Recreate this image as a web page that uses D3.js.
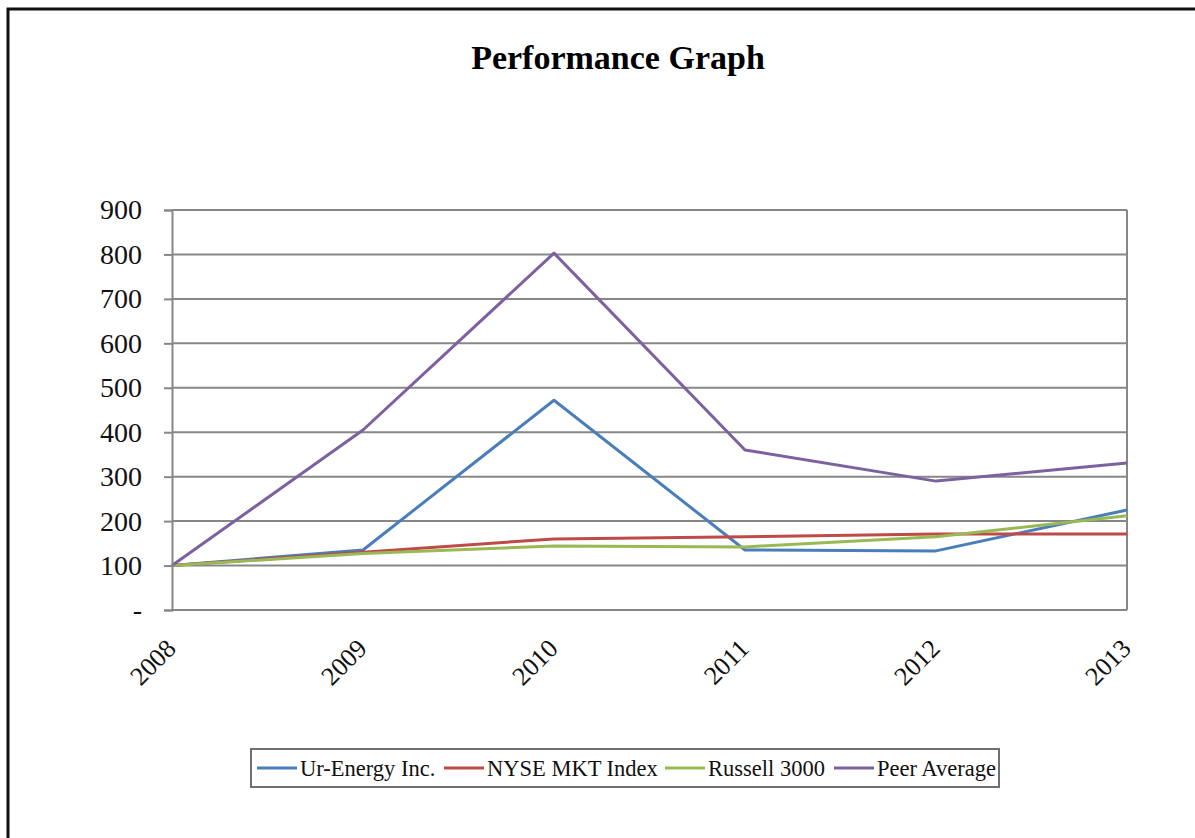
<!DOCTYPE html>
<html>
<head>
<meta charset="utf-8">
<script src="https://cdn.jsdelivr.net/npm/d3@7"></script>
<style>
	body { margin: 0; background: #fff; }
	svg { display: block; font-family: "Liberation Serif", "Times New Roman", serif; }
</style>
</head>
<body>
<svg id="chart"></svg>
<script>
const width = 1195
const height = 838

const years = ["2008", "2009", "2010", "2011", "2012", "2013"]
const urEnergy = [100, 135, 472, 135, 133, 225]
const nyseMkt = [100, 130, 160, 165, 171, 171]
const russell3000 = [100, 127, 144, 142, 165, 212]
const peerAverage = [100, 405, 803, 360, 290, 331]
const yTicks = [0, 100, 200, 300, 400, 500, 600, 700, 800, 900]

const seriesNames = ["Ur-Energy Inc.", "NYSE MKT Index", "Russell 3000", "Peer Average"]
const seriesColors = ["#4a7ebb", "#be4b48", "#98b954", "#7d60a0"]
const seriesValues = [urEnergy, nyseMkt, russell3000, peerAverage]

const margin = { top: 210, right: 68, bottom: 228, left: 172 }

const svg = d3.select("#chart")
	.attr("width", width)
	.attr("height", height)

// outer frame, runs off the right and bottom edges
svg.append("path")
	.attr("d", `M8,${height} V9 H${width}`)
	.attr("fill", "none")
	.attr("stroke", "#111")
	.attr("stroke-width", 3)

svg.append("text")
	.attr("x", 618)
	.attr("y", 69)
	.attr("text-anchor", "middle")
	.style("font-size", "34px")
	.style("font-weight", "bold")
	.text("Performance Graph")

const x = d3.scalePoint()
	.domain(years)
	.range([margin.left, width - margin.right])

const y = d3.scaleLinear()
	.domain([0, 900])
	.range([height - margin.bottom, margin.top])

const plot = svg.append("g")

// horizontal gridlines
plot.selectAll(".grid")
	.data(yTicks)
	.enter().append("line")
	.attr("class", "grid")
	.attr("x1", margin.left)
	.attr("x2", width - margin.right)
	.attr("y1", d => y(d))
	.attr("y2", d => y(d))
	.attr("stroke", "#878787")
	.attr("stroke-width", 2)

// right border of plot area
plot.append("line")
	.attr("x1", width - margin.right)
	.attr("x2", width - margin.right)
	.attr("y1", y(900))
	.attr("y2", y(0))
	.attr("stroke", "#878787")
	.attr("stroke-width", 2)

// y axis
const yAxis = d3.axisLeft(y)
	.tickValues(yTicks)
	.tickSize(8)
	.tickFormat(d => d === 0 ? "-" : d)

const yAxisG = svg.append("g")
	.attr("transform", `translate(${margin.left},0)`)
	.call(yAxis)
yAxisG.select(".domain").attr("stroke", "#878787").attr("stroke-width", 2)
yAxisG.selectAll(".tick line").attr("stroke", "#878787").attr("stroke-width", 2)
yAxisG.selectAll(".tick text")
	.attr("x", -30)
	.attr("fill", "#111")
	.style("font-size", "28px")
	.style("font-family", "Liberation Serif, serif")

// x axis labels, rotated
const xAxis = d3.axisBottom(x).tickSize(0)
const xAxisG = svg.append("g")
	.attr("transform", `translate(0,${y(0)})`)
	.call(xAxis)
xAxisG.select(".domain").remove()
xAxisG.selectAll(".tick text")
	.attr("fill", "#111")
	.style("font-size", "26px")
	.style("font-family", "Liberation Serif, serif")
	.attr("text-anchor", "end")
	.attr("dy", 0)
	.attr("y", 0)
	.attr("transform", "translate(5,40) rotate(-45)")

// lines
const line = d3.line()
	.x((d, i) => x(years[i]))
	.y(d => y(d))

plot.selectAll(".series")
	.data(seriesValues)
	.enter().append("path")
	.attr("class", "series")
	.attr("d", d => line(d))
	.attr("fill", "none")
	.attr("stroke", (d, i) => seriesColors[i])
	.attr("stroke-width", 3)
	.attr("stroke-linejoin", "round")

// legend
const legend = svg.append("g").attr("transform", "translate(251,749)")
legend.append("rect")
	.attr("width", 748)
	.attr("height", 38)
	.attr("fill", "#fff")
	.attr("stroke", "#6f6f6f")
	.attr("stroke-width", 2)

const legendX = [6, 193, 414, 583]
const item = legend.selectAll(".item")
	.data(seriesNames)
	.enter().append("g")
	.attr("class", "item")
	.attr("transform", (d, i) => `translate(${legendX[i]},19)`)

item.append("line")
	.attr("x1", 0)
	.attr("x2", 40)
	.attr("stroke", (d, i) => seriesColors[i])
	.attr("stroke-width", 3)

item.append("text")
	.attr("x", 43)
	.attr("dy", "0.35em")
	.attr("fill", "#111")
	.style("font-size", "22.5px")
	.text(d => d)
</script>
</body>
</html>
